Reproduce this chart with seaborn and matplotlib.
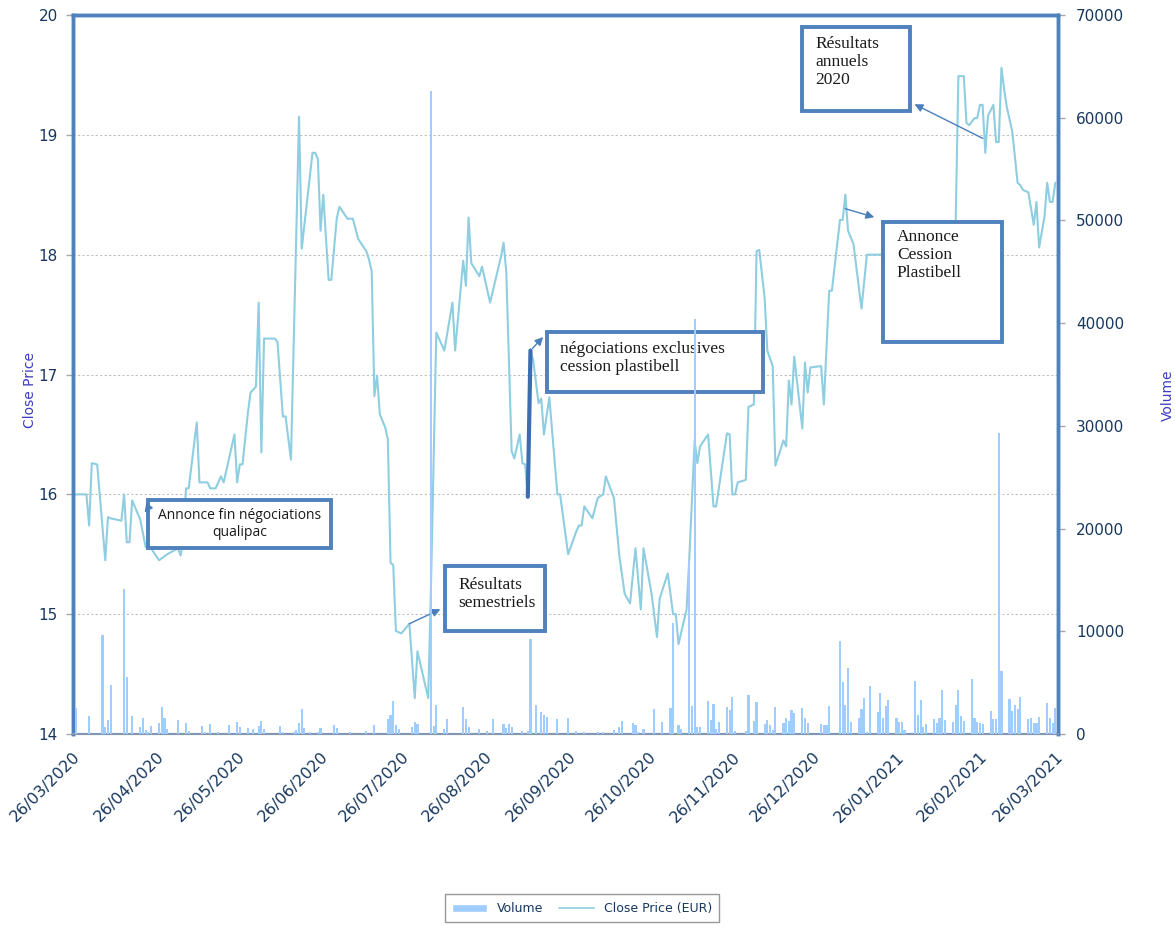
import matplotlib
matplotlib.use('Agg')
import matplotlib.pyplot as plt
from matplotlib.patches import Rectangle, Patch
from matplotlib.lines import Line2D
import pandas as pd
import seaborn as sns

# cours de clôture (EUR)
price_dates = [
    '2020-03-26', '2020-03-31', '2020-04-01', '2020-04-02', '2020-04-04', '2020-04-07', '2020-04-08',
    '2020-04-09', '2020-04-13', '2020-04-14', '2020-04-15', '2020-04-16', '2020-04-17', '2020-04-20',
    '2020-04-22', '2020-04-24', '2020-04-27', '2020-04-30', '2020-05-04', '2020-05-05', '2020-05-06',
    '2020-05-07', '2020-05-08', '2020-05-11', '2020-05-12', '2020-05-15', '2020-05-16', '2020-05-18',
    '2020-05-20', '2020-05-21', '2020-05-25', '2020-05-26', '2020-05-27', '2020-05-28', '2020-05-30',
    '2020-05-31', '2020-06-02', '2020-06-03', '2020-06-04', '2020-06-05', '2020-06-09', '2020-06-10',
    '2020-06-12', '2020-06-13', '2020-06-15', '2020-06-18', '2020-06-19', '2020-06-23', '2020-06-24',
    '2020-06-25', '2020-06-26', '2020-06-27', '2020-06-29', '2020-06-30', '2020-07-02', '2020-07-03',
    '2020-07-06', '2020-07-08', '2020-07-10', '2020-07-13', '2020-07-14', '2020-07-15', '2020-07-16',
    '2020-07-17', '2020-07-18', '2020-07-20', '2020-07-21', '2020-07-22', '2020-07-23', '2020-07-24',
    '2020-07-26', '2020-07-29', '2020-07-31', '2020-08-01', '2020-08-05', '2020-08-06', '2020-08-08',
    '2020-08-11', '2020-08-14', '2020-08-15', '2020-08-18', '2020-08-19', '2020-08-20', '2020-08-21',
    '2020-08-24', '2020-08-25', '2020-08-28', '2020-09-01', '2020-09-02', '2020-09-03', '2020-09-05',
    '2020-09-06', '2020-09-08', '2020-09-09', '2020-09-10', '2020-09-11', '2020-09-12', '2020-09-13',
    '2020-09-15', '2020-09-16', '2020-09-17', '2020-09-19', '2020-09-22', '2020-09-23', '2020-09-26',
    '2020-09-29', '2020-09-30', '2020-10-01', '2020-10-02', '2020-10-05', '2020-10-07', '2020-10-09',
    '2020-10-10', '2020-10-13', '2020-10-15', '2020-10-17', '2020-10-19', '2020-10-21', '2020-10-23',
    '2020-10-24', '2020-10-27', '2020-10-29', '2020-10-30', '2020-11-02', '2020-11-04', '2020-11-05',
    '2020-11-06', '2020-11-09', '2020-11-10', '2020-11-12', '2020-11-13', '2020-11-14', '2020-11-17',
    '2020-11-19', '2020-11-20', '2020-11-24', '2020-11-25', '2020-11-26', '2020-11-27', '2020-11-28',
    '2020-12-01', '2020-12-02', '2020-12-04', '2020-12-05', '2020-12-06', '2020-12-08', '2020-12-09',
    '2020-12-11', '2020-12-12', '2020-12-15', '2020-12-16', '2020-12-17', '2020-12-18', '2020-12-19',
    '2020-12-22', '2020-12-23', '2020-12-24', '2020-12-25', '2020-12-29', '2020-12-30', '2021-01-01',
    '2021-01-02', '2021-01-05', '2021-01-06', '2021-01-07', '2021-01-08', '2021-01-10', '2021-01-13',
    '2021-01-15', '2021-01-20', '2021-02-13', '2021-02-16', '2021-02-17', '2021-02-18', '2021-02-20',
    '2021-02-21', '2021-02-22', '2021-02-24', '2021-02-25', '2021-02-26', '2021-02-27', '2021-02-28',
    '2021-03-01', '2021-03-03', '2021-03-04', '2021-03-05', '2021-03-06', '2021-03-07', '2021-03-08',
    '2021-03-10', '2021-03-12', '2021-03-13', '2021-03-14', '2021-03-16', '2021-03-18', '2021-03-19',
    '2021-03-20', '2021-03-22', '2021-03-23', '2021-03-24', '2021-03-25', '2021-03-26',
]
price_values = [
    16.00, 16.00, 15.74, 16.26, 16.25, 15.45, 15.81,
    15.80, 15.78, 16.00, 15.60, 15.60, 15.95, 15.79,
    15.56, 15.55, 15.45, 15.50, 15.55, 15.49, 15.62,
    16.05, 16.05, 16.60, 16.10, 16.10, 16.05, 16.05,
    16.15, 16.10, 16.50, 16.10, 16.25, 16.25, 16.68,
    16.85, 16.90, 17.60, 16.35, 17.30, 17.30, 17.27,
    16.65, 16.65, 16.29, 19.15, 18.05, 18.85, 18.85,
    18.80, 18.20, 18.50, 17.79, 17.79, 18.30, 18.40,
    18.30, 18.30, 18.13, 18.03, 17.96, 17.86, 16.82,
    16.99, 16.67, 16.56, 16.46, 15.43, 15.41, 14.86,
    14.84, 14.92, 14.30, 14.69, 14.30, 15.20, 17.35,
    17.20, 17.60, 17.20, 17.95, 17.74, 18.31, 17.93,
    17.82, 17.90, 17.60, 17.98, 18.10, 17.86, 16.36,
    16.30, 16.50, 16.26, 16.25, 15.98, 17.20, 17.12,
    16.76, 16.80, 16.50, 16.81, 16.00, 16.00, 15.50,
    15.69, 15.74, 15.74, 15.90, 15.80, 15.97, 16.00,
    16.15, 15.97, 15.49, 15.17, 15.09, 15.55, 15.04,
    15.55, 15.17, 14.81, 15.13, 15.34, 15.00, 15.00,
    14.75, 15.04, 15.46, 16.45, 16.26, 16.40, 16.50,
    15.90, 15.90, 16.51, 16.50, 16.00, 16.00, 16.10,
    16.12, 16.73, 16.75, 18.03, 18.04, 17.64, 17.20,
    17.07, 16.24, 16.45, 16.40, 16.95, 16.75, 17.15,
    16.55, 17.10, 16.85, 17.06, 17.07, 16.75, 17.70,
    17.70, 18.29, 18.29, 18.50, 18.20, 18.09, 17.55,
    18.00, 18.00, 18.00, 18.20, 18.29, 19.49, 19.49,
    19.10, 19.08, 19.14, 19.14, 19.25, 19.25, 18.85,
    19.16, 19.25, 18.94, 18.94, 19.56, 19.38, 19.23,
    19.03, 18.60, 18.58, 18.54, 18.52, 18.25, 18.44,
    18.06, 18.32, 18.60, 18.44, 18.44, 18.60,
]

# volumes échangés
volume_dates = [
    '2020-03-27', '2020-04-01', '2020-04-06', '2020-04-07', '2020-04-08', '2020-04-09', '2020-04-14',
    '2020-04-15', '2020-04-17', '2020-04-20', '2020-04-21', '2020-04-22', '2020-04-23', '2020-04-24',
    '2020-04-27', '2020-04-28', '2020-04-29', '2020-04-30', '2020-05-04', '2020-05-07', '2020-05-08',
    '2020-05-13', '2020-05-14', '2020-05-16', '2020-05-19', '2020-05-23', '2020-05-26', '2020-05-27',
    '2020-05-30', '2020-06-01', '2020-06-03', '2020-06-04', '2020-06-05', '2020-06-11', '2020-06-12',
    '2020-06-16', '2020-06-17', '2020-06-18', '2020-06-19', '2020-06-20', '2020-06-22', '2020-06-25',
    '2020-06-26', '2020-07-01', '2020-07-02', '2020-07-07', '2020-07-13', '2020-07-16', '2020-07-21',
    '2020-07-22', '2020-07-23', '2020-07-24', '2020-07-25', '2020-07-30', '2020-07-31', '2020-08-01',
    '2020-08-06', '2020-08-07', '2020-08-08', '2020-08-11', '2020-08-12', '2020-08-18', '2020-08-19',
    '2020-08-20', '2020-08-24', '2020-08-27', '2020-08-29', '2020-09-02', '2020-09-03', '2020-09-04',
    '2020-09-05', '2020-09-09', '2020-09-11', '2020-09-12', '2020-09-14', '2020-09-16', '2020-09-17',
    '2020-09-18', '2020-09-22', '2020-09-26', '2020-09-29', '2020-10-02', '2020-10-07', '2020-10-09',
    '2020-10-13', '2020-10-15', '2020-10-16', '2020-10-20', '2020-10-21', '2020-10-22', '2020-10-24',
    '2020-10-28', '2020-10-31', '2020-11-03', '2020-11-04', '2020-11-06', '2020-11-07', '2020-11-10',
    '2020-11-11', '2020-11-12', '2020-11-13', '2020-11-14', '2020-11-17', '2020-11-18', '2020-11-19',
    '2020-11-20', '2020-11-21', '2020-11-24', '2020-11-25', '2020-11-26', '2020-11-27', '2020-12-01',
    '2020-12-02', '2020-12-04', '2020-12-05', '2020-12-08', '2020-12-09', '2020-12-10', '2020-12-11',
    '2020-12-12', '2020-12-15', '2020-12-16', '2020-12-17', '2020-12-18', '2020-12-19', '2020-12-22',
    '2020-12-23', '2020-12-24', '2020-12-29', '2020-12-30', '2020-12-31', '2021-01-01', '2021-01-05',
    '2021-01-06', '2021-01-07', '2021-01-08', '2021-01-09', '2021-01-12', '2021-01-13', '2021-01-14',
    '2021-01-15', '2021-01-16', '2021-01-19', '2021-01-20', '2021-01-21', '2021-01-22', '2021-01-23',
    '2021-01-26', '2021-01-27', '2021-01-28', '2021-01-29', '2021-02-02', '2021-02-03', '2021-02-04',
    '2021-02-05', '2021-02-06', '2021-02-09', '2021-02-10', '2021-02-11', '2021-02-12', '2021-02-13',
    '2021-02-16', '2021-02-17', '2021-02-18', '2021-02-19', '2021-02-20', '2021-02-23', '2021-02-24',
    '2021-02-25', '2021-02-26', '2021-02-27', '2021-03-02', '2021-03-03', '2021-03-04', '2021-03-05',
    '2021-03-06', '2021-03-09', '2021-03-10', '2021-03-11', '2021-03-12', '2021-03-13', '2021-03-16',
    '2021-03-17', '2021-03-18', '2021-03-19', '2021-03-20', '2021-03-23', '2021-03-24', '2021-03-25',
    '2021-03-26',
]
volume_values = [
    2500, 1800, 9600, 700, 1400, 4800, 14100,
    5600, 1800, 700, 1600, 400, 200, 800,
    1100, 2600, 1600, 500, 1400, 1100, 300,
    800, 200, 1000, 200, 900, 1200, 700,
    600, 500, 800, 1300, 500, 800, 200,
    200, 400, 1100, 2400, 600, 200, 200,
    600, 900, 600, 200, 300, 900, 1500,
    1900, 3200, 900, 500, 700, 1200, 1000,
    62600, 800, 2800, 500, 1500, 2600, 1500,
    700, 500, 300, 1500, 1000, 600, 1000,
    700, 300, 300, 9300, 2800, 2100, 1900,
    1700, 1500, 1600, 300, 200, 200, 200,
    400, 700, 1300, 1100, 900, 200, 500,
    2400, 1200, 2500, 10800, 900, 500, 16900,
    2700, 40400, 700, 700, 3200, 1400, 2900,
    500, 1200, 2600, 2300, 3600, 300, 300,
    3800, 1300, 3100, 1000, 1400, 900, 400,
    2600, 1100, 1600, 1300, 2300, 2000, 2500,
    1600, 1100, 1000, 900, 900, 2700, 9100,
    5100, 2800, 6400, 1200, 1600, 2400, 3500,
    200, 4700, 2100, 4000, 1600, 2700, 3300,
    1600, 1200, 1200, 400, 5200, 1900, 3300,
    700, 1000, 1500, 1100, 1600, 4300, 1400,
    1200, 2800, 4300, 1800, 1300, 5400, 1600,
    1200, 1100, 1000, 2200, 1500, 1500, 29300,
    6100, 3400, 2200, 2800, 2400, 3600, 1500,
    1600, 1100, 1100, 1700, 3000, 1600, 1100,
    2500,
]

tick_labels = ['26/03/2020', '26/04/2020', '26/05/2020', '26/06/2020', '26/07/2020',
               '26/08/2020', '26/09/2020', '26/10/2020', '26/11/2020', '26/12/2020',
               '26/01/2021', '26/02/2021', '26/03/2021']

line_col = '#8fcde0'
bar_col = '#9fcdff'
frame_col = '#4f81bd'
txt_col = '#17375e'

prix = pd.DataFrame({'date': pd.to_datetime(price_dates), 'close': price_values})
vol = pd.DataFrame({'date': pd.to_datetime(volume_dates), 'volume': volume_values})

sns.set_style('white')
plt.rcParams['font.family'] = ['DejaVu Sans']

fig = plt.figure(figsize=(11.75, 9.26), dpi=100)
ax = fig.add_axes([0.0621, 0.2073, 0.8383, 0.7765])
ax2 = ax.twinx()

sns.lineplot(data=prix, x='date', y='close', ax=ax, color=line_col, lw=1.5, estimator=None)
# segment mis en évidence (annonce négociations exclusives)
i = price_dates.index('2020-09-11')
ax.plot(prix['date'][i:i + 2], prix['close'][i:i + 2], color='#3c6db0', lw=3, zorder=4)

ax2.bar(vol['date'], vol['volume'], width=0.8, color=bar_col, linewidth=0, zorder=3)

ax.set_ylim(14, 20)
ax.set_yticks(range(14, 21))
ax2.set_ylim(0, 70000)
ax2.set_yticks(range(0, 70001, 10000))
ax.set_xlim(pd.Timestamp('2020-03-26'), pd.Timestamp('2021-03-27'))
ticks = pd.to_datetime(tick_labels, format='%d/%m/%Y')
ax.set_xticks(ticks)
ax.set_xticklabels(tick_labels, rotation=45, ha='right', rotation_mode='anchor')

ax.yaxis.grid(True, color='#c0c0c0', linestyle=(0, (2, 2)), lw=0.8)
ax.set_axisbelow(True)

for a in (ax, ax2):
    a.tick_params(axis='both', direction='out', length=5, width=1, color='#a6a6a6',
                  labelcolor=txt_col, labelsize=11)
    for s in ('top', 'left', 'right'):
        a.spines[s].set_color(frame_col)
        a.spines[s].set_linewidth(2.5)
    a.spines['bottom'].set_color('#8497b0')
    a.spines['bottom'].set_linewidth(1.5)
ax.tick_params(axis='y', pad=6)
ax.tick_params(axis='x', pad=6, labelsize=11.5)
ax2.tick_params(axis='y', pad=8)

ax.set_xlabel('')
ax.set_ylabel('Close Price', color='#3d3dbf', fontsize=10)
ax.yaxis.set_label_coords(-0.037, 0.478)
ax2.set_ylabel('Volume', color='#3d3dbf', fontsize=10)
ax2.yaxis.set_label_coords(1.104, 0.471)

# encadrés d'annotation
arrow_kw = dict(arrowstyle='-|>', color='#4a7ebb', lw=1, mutation_scale=12)


def encadre(x0, y0, x1, y1):
    ax.add_patch(Rectangle((x0, y0), x1 - x0, y1 - y0, transform=ax.transAxes,
                           facecolor='white', edgecolor=frame_col, lw=2.8, zorder=5, clip_on=False))


serif = dict(family='Liberation Serif', fontsize=12.5, color='#1a1a1a', zorder=6, linespacing=1.15)

encadre(0.0761, 0.2587, 0.2619, 0.3255)
ax.text(0.1695, 0.292, 'Annonce fin négociations\nqualipac', transform=ax.transAxes,
        ha='center', va='center', fontsize=10, family='Open Sans', color='#1a1a1a', zorder=6)
ax.annotate('', xy=(pd.Timestamp('2020-04-21'), 15.83), xytext=(0.078, 0.318),
            textcoords='axes fraction', arrowprops=arrow_kw, zorder=6)

encadre(0.3777, 0.1433, 0.4792, 0.2337)
ax.text(0.3909, 0.1947, 'Résultats\nsemestriels', transform=ax.transAxes,
        ha='left', va='center', **serif)
ax.annotate('', xy=(0.3756, 0.1752), xycoords='axes fraction',
            xytext=(pd.Timestamp('2020-07-28'), 14.91), textcoords='data', arrowprops=arrow_kw, zorder=6)

encadre(0.4812, 0.4757, 0.7005, 0.5591)
ax.text(0.4944, 0.523, 'négociations exclusives\ncession plastibell', transform=ax.transAxes,
        ha='left', va='center', **serif)
ax.annotate('', xy=(0.4792, 0.555), xycoords='axes fraction',
            xytext=(pd.Timestamp('2020-09-12'), 17.2), textcoords='data', arrowprops=arrow_kw, zorder=6)

encadre(0.7401, 0.8665, 0.8497, 0.9833)
ax.text(0.7533, 0.9346, 'Résultats\nannuels\n2020', transform=ax.transAxes,
        ha='left', va='center', **serif)
ax.annotate('', xy=(0.8518, 0.8776), xycoords='axes fraction',
            xytext=(pd.Timestamp('2021-02-28'), 18.96), textcoords='data', arrowprops=arrow_kw, zorder=6)

encadre(0.8223, 0.5452, 0.9431, 0.7121)
ax.text(0.8365, 0.7024, 'Annonce\nCession\nPlastibell', transform=ax.transAxes,
        ha='left', va='top', **serif)
ax.annotate('', xy=(0.8162, 0.7177), xycoords='axes fraction',
            xytext=(pd.Timestamp('2021-01-06'), 18.39), textcoords='data', arrowprops=arrow_kw, zorder=6)

handles = [Patch(facecolor=bar_col, label='Volume'),
           Line2D([], [], color=line_col, lw=1.2, label='Close Price (EUR)')]
leg = fig.legend(handles=handles, loc='center', bbox_to_anchor=(0.4953, 0.0189), ncol=2,
                 frameon=True, fancybox=False, edgecolor='#7f7f7f', fontsize=9,
                 handlelength=2.8, handleheight=0.6, columnspacing=1.2, borderpad=0.6)
for t in leg.get_texts():
    t.set_color(txt_col)

fig.savefig('out.png', dpi=100)
